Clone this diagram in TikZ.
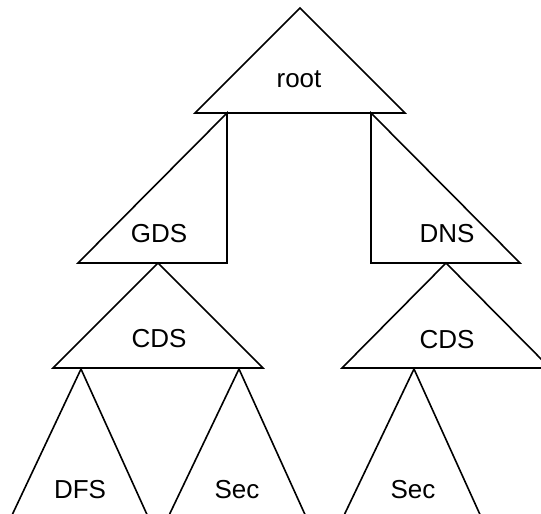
\documentclass[tikz,border=0pt]{standalone}
\usepackage{fontspec}
\setmainfont{Liberation Sans}
\begin{document}
\begin{tikzpicture}[x=1pt,y=-1pt,
  tri/.style={draw=black, line width=1.6pt, line join=miter},
  lbl/.style={font=\fontsize{26}{31}\selectfont, inner sep=0pt}]
\useasboundingbox (0,0) rectangle (541,514);
\clip (0,0) rectangle (541,514);
% root
\draw[tri] (300,8) -- (195,113) -- (405,113) -- cycle;
\node[lbl] (root) at (299,79) {root};
% GDS
\draw[tri] (227,113) -- (78,263) -- (227,263) -- cycle;
\node[lbl] (gds) at (159,234) {GDS};
% DNS
\draw[tri] (371,113) -- (371,263) -- (520,263) -- cycle;
\node[lbl] (dns) at (447,234) {DNS};
% CDS left
\draw[tri] (158,263) -- (53,368) -- (263,368) -- cycle;
\node[lbl] (cdsl) at (159,339) {CDS};
% CDS right
\draw[tri] (446,263) -- (342,368) -- (550,368) -- cycle;
\node[lbl] (cdsr) at (447,340) {CDS};
% DFS
\draw[tri] (81,369) -- (5,530) -- (154,530) -- cycle;
\node[lbl] (dfs) at (80,490) {DFS};
% Sec left
\draw[tri] (239,369) -- (162,530) -- (312,530) -- cycle;
\node[lbl] (secl) at (237,490) {Sec};
% Sec right
\draw[tri] (414,369) -- (337,530) -- (487,530) -- cycle;
\node[lbl] (secr) at (413,490) {Sec};
\end{tikzpicture}
\end{document}
